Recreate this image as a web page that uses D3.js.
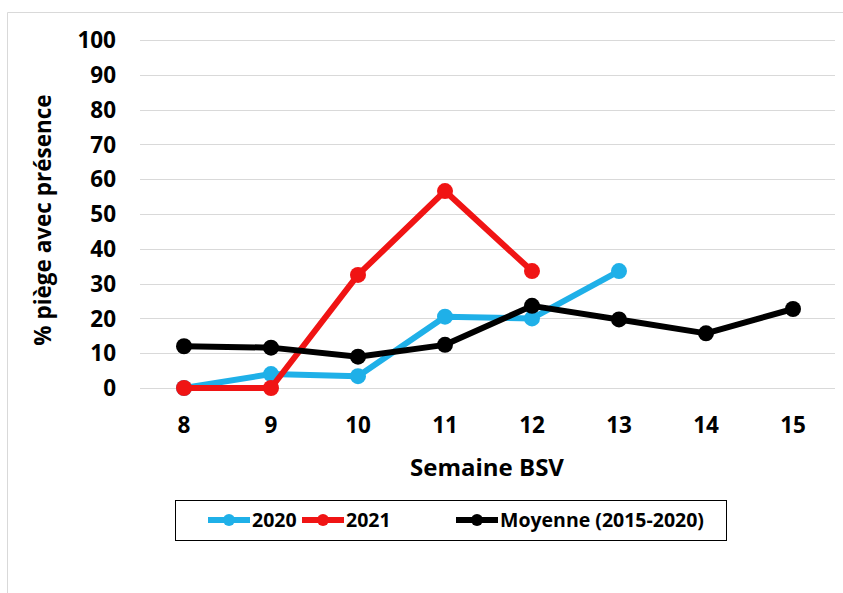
<!DOCTYPE html>
<html>
<head>
<meta charset="utf-8">
<title>Chart</title>
<script src="https://d3js.org/d3.v7.min.js"></script>
<style>
  body { margin: 0; background: #fff; }
  text { font-family: "Open Sans", "Noto Sans", sans-serif; font-weight: bold; fill: #000; }
</style>
</head>
<body>
<div id="mychart"></div>
<script>
// data
var weeks = ["8", "9", "10", "11", "12", "13", "14", "15"];
var yTicks = [0, 10, 20, 30, 40, 50, 60, 70, 80, 90, 100];
var values2020 = [0, 4, 3.4, 20.5, 20, 33.6, null, null];
var values2021 = [0, 0, 32.5, 56.6, 33.6, null, null, null];
var valuesMoy = [12, 11.6, 9, 12.4, 23.6, 19.7, 15.7, 22.7];
var seriesNames = ["2020", "2021", "Moyenne (2015-2020)"];
var seriesColors = ["#1fb0e8", "#f01414", "#000000"];

var width = 843, height = 593;
var svg = d3.select("#mychart").append("svg")
    .attr("width", width).attr("height", height);

// chart frame
svg.append("path")
    .attr("d", "M7.5," + height + "V12.5H" + width)
    .attr("fill", "none").attr("stroke", "#d9d9d9");

var x = d3.scaleBand().domain(weeks).range([140.5, 836.5]);
var y = d3.scaleLinear().domain([0, 100]).range([388, 40]);

// gridlines
svg.append("g").selectAll("line").data(yTicks).enter().append("line")
    .attr("x1", 140).attr("x2", 835)
    .attr("y1", d => Math.round(y(d)) + 0.5).attr("y2", d => Math.round(y(d)) + 0.5)
    .attr("stroke", "#d9d9d9").attr("stroke-width", 1.2);

// y tick labels
svg.append("g").selectAll("text").data(yTicks).enter().append("text")
    .attr("x", 116).attr("y", d => y(d))
    .attr("dy", "0.36em").attr("text-anchor", "end")
    .style("font-size", "22.5px")
    .text(d => d);

// x tick labels
svg.append("g").selectAll("text").data(weeks).enter().append("text")
    .attr("x", d => x(d) + x.bandwidth() / 2).attr("y", 425)
    .attr("dy", "0.36em").attr("text-anchor", "middle")
    .style("font-size", "22.5px")
    .text(d => d);

// axis titles
svg.append("text")
    .attr("x", 487).attr("y", 467).attr("dy", "0.36em")
    .attr("text-anchor", "middle").style("font-size", "24px")
    .text("Semaine BSV");

svg.append("text")
    .attr("transform", "translate(43,220) rotate(-90)")
    .attr("dy", "0.36em")
    .attr("text-anchor", "middle").style("font-size", "22.5px")
    .text("% piège avec présence");

var line = d3.line()
    .defined(d => d != null)
    .x((d, i) => x(weeks[i]) + x.bandwidth() / 2)
    .y(d => y(d));

var allSeries = [values2020, values2021, valuesMoy];
allSeries.forEach(function(vals, k) {
  var g = svg.append("g");
  g.append("path")
      .attr("d", line(vals))
      .attr("fill", "none")
      .attr("stroke", seriesColors[k])
      .attr("stroke-width", 6)
      .attr("stroke-linejoin", "round");
  g.selectAll("circle")
      .data(vals.map((v, i) => ({v: v, w: weeks[i]})).filter(d => d.v != null))
      .enter().append("circle")
      .attr("cx", d => x(d.w) + x.bandwidth() / 2)
      .attr("cy", d => y(d.v))
      .attr("r", 8)
      .attr("fill", seriesColors[k]);
});

// legend
var legend = svg.append("g");
legend.append("rect")
    .attr("x", 175.5).attr("y", 500.5).attr("width", 551).attr("height", 40)
    .attr("fill", "#fff").attr("stroke", "#000").attr("stroke-width", 1);

var legendX = [208, 302, 456];
seriesNames.forEach(function(name, k) {
  var lg = legend.append("g").attr("transform", "translate(" + legendX[k] + ",520)");
  lg.append("line").attr("x1", 0).attr("x2", 42).attr("y1", 0).attr("y2", 0)
      .attr("stroke", seriesColors[k]).attr("stroke-width", 6);
  lg.append("circle").attr("cx", 21).attr("cy", 0).attr("r", 6).attr("fill", seriesColors[k]);
  lg.append("text").attr("x", 44).attr("y", 0).attr("dy", "0.36em")
      .style("font-size", "19.5px").text(name);
});
</script>
</body>
</html>
